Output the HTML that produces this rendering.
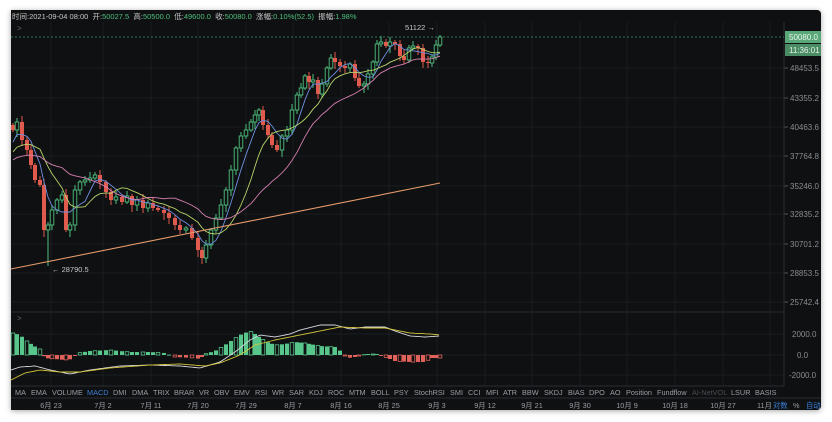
<!DOCTYPE html>
<html><head><meta charset="utf-8"><style>
html,body{margin:0;padding:0;background:#fff;width:832px;height:422px;overflow:hidden}
#f{position:absolute;left:11px;top:10px;width:810px;height:400px;background:#0e1011;box-shadow:0 1px 6px rgba(0,0,0,.35);border-radius:0 4px 4px 0}
svg{position:absolute;left:0;top:0}
text{font-family:"Liberation Sans","Noto Sans CJK SC",sans-serif}
</style></head><body>
<div id="f"></div>
<svg id="s" width="832" height="422" xmlns="http://www.w3.org/2000/svg"></svg>
<script>
var s=document.getElementById('s'),h='';
var gx=[51,103,151,198,246,293,341,389,437,485,532,580,627,675,723,770];
gx.forEach(function(x){h+='<line x1="'+x+'" y1="22" x2="'+x+'" y2="386" stroke="#1b1e21" stroke-width="1"/>';});
var py=[[68,'48453.5'],[98,'43355.2'],[127,'40463.6'],[156,'37764.8'],[186,'35246.0'],[214,'32835.2'],[244,'30701.2'],[273,'28853.5'],[302,'25742.4']];
py.forEach(function(p){h+='<line x1="11" y1="'+p[0]+'" x2="784" y2="'+p[0]+'" stroke="#1b1e21"/><line x1="784" y1="'+p[0]+'" x2="788" y2="'+p[0]+'" stroke="#555"/><text x="790" y="'+(p[0]+3)+'" font-size="8" fill="#8a8d91">'+p[1]+'</text>';});
[[334,'2000.0',792],[355,'0.0',797],[375,'-2000.0',789]].forEach(function(p){h+='<line x1="11" y1="'+p[0]+'" x2="784" y2="'+p[0]+'" stroke="#1b1e21"/><text x="'+p[2]+'" y="'+(p[0]+3)+'" font-size="8" fill="#8a8d91">'+p[1]+'</text>';});
h+='<line x1="784" y1="22" x2="784" y2="386" stroke="#2a2d31"/>';
h+='<line x1="11" y1="312" x2="784" y2="312" stroke="#2a2d31"/>';
h+='<line x1="11" y1="386" x2="784" y2="386" stroke="#2a2d31"/>';
h+='<line x1="11" y1="398" x2="821" y2="398" stroke="#2a2d31"/>';
h+='<text x="12" y="19" font-size="7.5" fill="#c8c8c8">时间:2021-09-04 08:00 &#160;开:<tspan fill="#4fbf7e">50027.5</tspan> &#160;高:<tspan fill="#4fbf7e">50500.0</tspan> &#160;低:<tspan fill="#4fbf7e">49600.0</tspan> &#160;收:<tspan fill="#4fbf7e">50080.0</tspan> &#160;涨幅:<tspan fill="#4fbf7e">0.10%(52.5)</tspan> &#160;振幅:<tspan fill="#4fbf7e">1.98%</tspan></text>';
h+='<text x="17" y="31" font-size="8" fill="#666">&gt;</text><text x="17" y="321" font-size="8" fill="#666">&gt;</text>';
var kp=[[13,130],[17,122],[22,140],[27,150],[31,165],[35,180],[40,185],[44,230],[48,225],[52,210],[57,200],[62,195],[66,230],[70,225],[75,190],[80,182],[85,180],[90,178],[95,175],[100,182],[106,192],[111,200],[116,197],[122,202],[127,196],[132,205],[137,200],[143,208],[148,203],[153,208],[158,210],[164,213],[169,218],[175,225],[180,230],[186,228],[192,238],[198,250],[202,258],[206,245],[211,230],[216,218],[221,205],[226,190],[231,170],[236,148],[241,136],[246,130],[251,122],[255,115],[259,110],[263,125],[268,135],[272,145],[277,150],[282,136],[287,130],[292,110],[297,95],[301,88],[305,76],[309,82],[313,80],[318,94],[322,84],[327,68],[331,58],[335,62],[340,66],[345,68],[350,64],[355,78],[359,86],[364,84],[368,74],[373,62],[377,44],[381,42],[386,46],[390,42],[395,44],[400,56],[404,60],[409,48],[413,46],[418,48],[423,62],[428,63],[432,57],[436,45],[440,37]];
var C=[];kp.forEach(function(p){C.push(p[1]);});
var H=[];for(var i=0;i<20;i++)H.push(i<12?168:(i<17?160:140));
var A=H.concat(C);
var prev=125;
for(var i=0;i<kp.length;i++){var x=kp[i][0],c=C[i],o=prev;prev=c;
 var up=c<o,col=up?'#4fbf7e':'#e05a4e';
 var hi=Math.min(o,c)-2-((i*7)%5),lo=Math.max(o,c)+2+((i*11)%6);
 if(x==48)lo=266;
 h+='<line x1="'+x+'" y1="'+hi+'" x2="'+x+'" y2="'+lo+'" stroke="'+col+'"/>';
 var t=Math.min(o,c),bh=Math.max(1,Math.abs(o-c));
 if(up)h+='<rect x="'+(x-1.8)+'" y="'+t+'" width="3.6" height="'+bh+'" fill="#0e1011" stroke="'+col+'" stroke-width="0.9"/>';
 else h+='<rect x="'+(x-2)+'" y="'+t+'" width="4" height="'+bh+'" fill="'+col+'"/>';
}
function ma(n,col){var d='';for(var i=0;i<C.length;i++){var a=0;for(var j=i+20-n+1;j<=i+20;j++)a+=A[j];
 d+=(i?'L':'M')+kp[i][0]+' '+(a/n).toFixed(1);}
 h+='<path d="'+d+'" fill="none" stroke="'+col+'" stroke-width="0.9"/>';}
ma(5,'#6f8fe0');ma(10,'#b8d56a');ma(20,'#d77fb3');
h+='<line x1="11" y1="269" x2="440" y2="183" stroke="#e49a6c" stroke-width="1.1"/>';
h+='<text x="52" y="272" font-size="7.5" fill="#c8c8c8">← 28790.5</text>';
h+='<text x="405" y="30" font-size="7.5" fill="#c8c8c8">51122 →</text>';
h+='<line x1="11" y1="37" x2="784" y2="37" stroke="#4fbf7e" stroke-dasharray="2,2" stroke-width="0.8" opacity=".8"/>';
h+='<rect x="785" y="31" width="36" height="12" fill="#5aa879"/><text x="789" y="40" font-size="8" fill="#e8f2ea">50080.0</text>';
h+='<rect x="785" y="44" width="36" height="12" fill="#4a8c64"/><text x="789" y="53" font-size="8" fill="#e8f2ea">11:36:01</text>';
var hk=[[13,-22],[20,-20],[27,-14],[34,-9],[40,-6],[45,3],[55,4],[65,5],[72,4],[78,-2],[90,-4],[110,-5],[130,-3],[150,-3],[165,-2],[175,2],[195,3],[200,4],[205,-1],[215,-4],[225,-10],[240,-20],[250,-24],[255,-21],[265,-14],[275,-10],[285,-11],[295,-13],[305,-12],[320,-9],[335,-8],[342,-3],[348,3],[355,2],[365,-1],[378,-1],[385,2],[395,6],[410,7],[425,7],[432,3],[440,3]];
function interp(a,x){for(var i=1;i<a.length;i++)if(x<=a[i][0]){var p=a[i-1],q=a[i];return p[1]+(q[1]-p[1])*(x-p[0])/(q[0]-p[0]);}return a[a.length-1][1];}
kp.forEach(function(p,i){var v=interp(hk,p[0]),neg=v<0,col=neg?'#58c58a':'#e0625a';
 var y=neg?355+v:355,hh=Math.max(1,Math.abs(v));
 if(i%3==0) h+='<rect x="'+(p[0]-1.8)+'" y="'+y+'" width="3.6" height="'+hh+'" fill="none" stroke="'+col+'" stroke-width="0.8"/>';
 else h+='<rect x="'+(p[0]-2)+'" y="'+y+'" width="4" height="'+hh+'" fill="'+col+'"/>';});
function pl(a,col){var d='';for(var x=11;x<=440;x+=2)d+=(x==11?'M':'L')+x+' '+interp(a,x).toFixed(1);h+='<path d="'+d+'" fill="none" stroke="'+col+'" stroke-width="0.9"/>';}
pl([[11,370],[20,367],[35,366],[50,370],[70,374],[90,370],[120,366],[150,365],[180,366],[200,368],[220,362],[235,352],[250,340],[260,335],[275,337],[290,334],[300,330],[320,325],[335,325],[350,329],[365,327],[385,327],[395,331],[410,336],[425,337],[440,336]],'#d8d8e0');
pl([[11,380],[25,373],[40,370],[60,372],[80,372],[110,368],[150,365],[180,364],[205,366],[220,363],[240,355],[255,345],[275,340],[300,335],[320,331],[340,327],[365,328],[385,328],[410,333],[430,334],[440,335]],'#d4c53a');
var tabs=[['MA',15],['EMA',31],['VOLUME',52],['MACD',87],['DMI',113],['DMA',132],['TRIX',153],['BRAR',174],['VR',199],['OBV',214],['EMV',234],['RSI',255],['WR',272],['SAR',289],['KDJ',309],['ROC',328],['MTM',349],['BOLL',371],['PSY',394],['StochRSI',414],['SMI',450],['CCI',468],['MFI',486],['ATR',503],['BBW',522],['SKDJ',544],['BIAS',568],['DPO',589],['AO',610],['Position',626],['Fundflow',657],['AI-NetVOL',692],['LSUR',731],['BASIS',755]];
tabs.forEach(function(t){var col=t[0]=='MACD'?'#3d7fd8':(t[0]=='AI-NetVOL'?'#4a4d52':'#9a9ea4');h+='<text x="'+t[1]+'" y="395" font-size="7.3" fill="'+col+'">'+t[0]+'</text>';});
var dl=['6月 23','7月 2','7月 11','7月 20','7月 29','8月 7','8月 16','8月 25','9月 3','9月 12','9月 21','9月 30','10月 9','10月 18','10月 27'];
dl.forEach(function(d,i){h+='<text x="'+gx[i]+'" y="408" font-size="7.3" fill="#9a9ea4" text-anchor="middle">'+d+'</text>';});
h+='<text x="757" y="408" font-size="7.3" fill="#9a9ea4">11月</text><text x="773" y="408" font-size="7.3" fill="#3d7fd8">对数</text><text x="793" y="408" font-size="7.3" fill="#9a9ea4">%</text><text x="806" y="408" font-size="7.3" fill="#3d7fd8">自动</text>';
s.innerHTML=h;
</script>
</body></html>
